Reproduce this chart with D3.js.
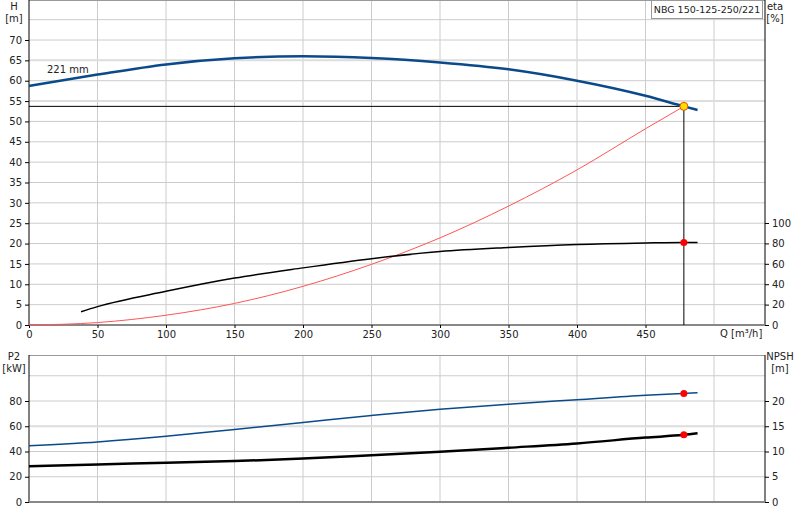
<!DOCTYPE html><html><head><meta charset="utf-8">
<script src="https://cdn.jsdelivr.net/npm/d3@7"></script>
<style>body{margin:0;background:#fff}text{font-family:"DejaVu Sans",sans-serif;font-size:10px;fill:#222}</style></head><body>
<svg id="c" width="800" height="520"></svg>
<script>
const qTicks=[0,50,100,150,200,250,300,350,400,450];
const hTicks=[0,5,10,15,20,25,30,35,40,45,50,55,60,65,70];
const etaTicks=[0,20,40,60,80,100];
const p2Ticks=[0,20,40,60,80];
const npshTicks=[0,5,10,15,20];
const hQ=[0,50,100,150,200,250,300,350,400,450,478,488];
const hVal=[58.7,61.5,64,65.5,66,65.6,64.5,62.8,60,56.3,53.7,52.8];
const etaQ=[38,50,100,150,200,250,300,350,400,450,478,488];
const etaVal=[13,18,33,46,56,65,72,76,79,80.5,81,81];
const sysQ=[0,50,100,150,200,250,300,350,400,450,478];
const sysVal=[0,0.6,2.4,5.3,9.5,14.9,21.4,29.2,38.1,48.2,53.7];
const p2Q=[0,50,100,150,200,250,300,350,400,450,478,488];
const p2Val=[44.5,47.5,52,57.5,63,68.5,73.5,77.5,81,84.5,86,86.5];
const npshVal=[7.1,7.45,7.75,8.1,8.6,9.25,9.95,10.75,11.6,12.75,13.3,13.6];
const duty={q:478,h:53.7,eta:81,p2:86,npsh:13.3};
const title="NBG 150-125-250/221";

const svg=d3.select("#c");
const x=d3.scaleLinear().domain([0,500]).range([29,714]);
const xR=765;
const yH=d3.scaleLinear().domain([0,70]).range([325,40]);
const yE=d3.scaleLinear().domain([0,100]).range([325,223]);
const yP=d3.scaleLinear().domain([0,80]).range([502,401]);
const yN=d3.scaleLinear().domain([0,20]).range([502,401]);
const g=svg.append("g");
[...qTicks.slice(1),500].forEach(q=>g.append("line").attr("x1",x(q)).attr("x2",x(q)).attr("y1",0).attr("y2",325).attr("stroke","#ccc"));
[...hTicks.slice(1),75].forEach(h=>g.append("line").attr("x1",29).attr("x2",xR).attr("y1",yH(h)).attr("y2",yH(h)).attr("stroke",h==55||h==65?"#ddd":"#ccc").attr("stroke-width",h==55||h==65?2:1));
g.append("line").attr("x1",29).attr("x2",xR).attr("y1",0.5).attr("y2",0.5).attr("stroke","#999");
[...qTicks.slice(1),500].forEach(q=>g.append("line").attr("x1",x(q)).attr("x2",x(q)).attr("y1",355).attr("y2",502).attr("stroke","#ccc"));
[20,40,60,80,100].forEach(p=>g.append("line").attr("x1",29).attr("x2",xR).attr("y1",yP(p)).attr("y2",yP(p)).attr("stroke",p==60?"#ddd":"#ccc").attr("stroke-width",p==60?2:1));
g.append("line").attr("x1",29).attr("x2",xR).attr("y1",355.5).attr("y2",355.5).attr("stroke","#999");
svg.append("g").attr("transform","translate(29,0)").call(d3.axisLeft(yH).tickValues(hTicks).tickSize(4).tickSizeOuter(0)).call(a=>a.select(".domain").attr("d","M0,0V325"));
svg.append("g").attr("transform",`translate(${xR},0)`).call(d3.axisRight(yE).tickValues(etaTicks).tickSize(4).tickSizeOuter(0)).call(a=>a.select(".domain").attr("d","M0,0V325"));
svg.append("g").attr("transform","translate(0,325)").call(d3.axisBottom(x).tickValues(qTicks).tickSize(3).tickSizeOuter(0)).call(a=>a.select(".domain").attr("d","M29,0H"+xR).attr("stroke","#888").attr("stroke-width",2));
svg.append("g").attr("transform","translate(29,0)").call(d3.axisLeft(yP).tickValues(p2Ticks).tickSize(4).tickSizeOuter(0)).call(a=>a.select(".domain").attr("d","M0,355V502"));
svg.append("g").attr("transform",`translate(${xR},0)`).call(d3.axisRight(yN).tickValues(npshTicks).tickSize(4).tickSizeOuter(0)).call(a=>a.select(".domain").attr("d","M0,355V502"));
svg.append("line").attr("x1",29).attr("x2",xR).attr("y1",502).attr("y2",502).attr("stroke","#888").attr("stroke-width",2);
svg.selectAll(".tick text").style("font-size","10px").style("fill","#222");
const t=(s,xx,yy,a)=>svg.append("text").attr("x",xx).attr("y",yy).attr("text-anchor",a||"middle").text(s);
t("H",14,10);t("[m]",14,22);t("eta",775,10);t("[%]",775,22);
t("Q [m³/h]",720,337,"start");t("P2",14,360);t("[kW]",14,372);t("NPSH",780,360);t("[m]",780,372);
t("221 mm",47,73,"start");
svg.append("rect").attr("x",651.5).attr("y",0.5).attr("width",111).attr("height",18).attr("fill","#fff").attr("stroke","#999");
svg.append("text").attr("x",707).attr("y",13).attr("text-anchor","middle").style("font-size","9.5px").text(title);
const line=(xs,ys,sx,sy)=>d3.line().curve(d3.curveMonotoneX).x((d,i)=>sx(xs[i])).y((d,i)=>sy(ys[i]))(xs);
svg.append("line").attr("x1",29).attr("x2",x(duty.q)).attr("y1",yH(duty.h)).attr("y2",yH(duty.h)).attr("stroke","#000");
svg.append("line").attr("x1",x(duty.q)).attr("x2",x(duty.q)).attr("y1",yH(duty.h)).attr("y2",325).attr("stroke","#000");
svg.append("path").attr("d",line(sysQ,sysVal,x,yH)).attr("fill","none").attr("stroke","#f55").attr("stroke-width",1);
svg.append("path").attr("d",line(hQ,hVal,x,yH)).attr("fill","none").attr("stroke","#0b4a8a").attr("stroke-width",2.5);
svg.append("path").attr("d",line(etaQ,etaVal,x,yE)).attr("fill","none").attr("stroke","#000").attr("stroke-width",1.5);
svg.append("path").attr("d",line(p2Q,p2Val,x,yP)).attr("fill","none").attr("stroke","#0b4a8a").attr("stroke-width",1.5);
svg.append("path").attr("d",line(p2Q,npshVal,x,yN)).attr("fill","none").attr("stroke","#000").attr("stroke-width",2.5);
svg.append("circle").attr("cx",x(duty.q)).attr("cy",yH(duty.h)).attr("r",4).attr("fill","#ffdd00").attr("stroke","#e05000");
[[yE,duty.eta],[yP,duty.p2],[yN,duty.npsh]].forEach(([s,v])=>svg.append("circle").attr("cx",x(duty.q)).attr("cy",s(v)).attr("r",3.5).attr("fill","#f00"));
</script></body></html>
